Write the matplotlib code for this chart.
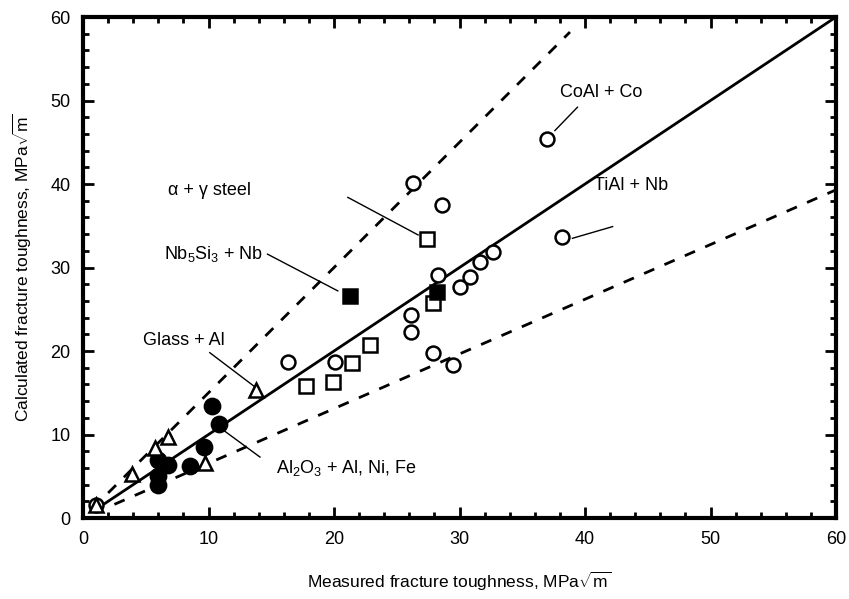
import matplotlib
matplotlib.use("Agg")
import matplotlib.pyplot as plt
from matplotlib.ticker import MultipleLocator
import numpy as np

plt.rcParams['font.family'] = ['Liberation Sans', 'DejaVu Sans']
plt.rcParams['mathtext.fontset'] = 'custom'
plt.rcParams['mathtext.rm'] = 'Liberation Sans'
plt.rcParams['mathtext.it'] = 'Liberation Sans'

# Data (measured, calculated)
open_circle_x = [37.0, 38.2, 26.3, 28.6, 28.3, 31.6, 32.7, 30.0, 30.8, 26.1, 26.1, 27.9, 29.5, 16.3, 20.1, 1.0]
open_circle_y = [45.4, 33.7, 40.1, 37.5, 29.1, 30.7, 31.9, 27.7, 28.9, 24.3, 22.3, 19.8, 18.3, 18.7, 18.7, 1.5]

open_square_x = [17.8, 19.9, 21.4, 22.9, 27.9, 27.4]
open_square_y = [15.8, 16.3, 18.6, 20.7, 25.7, 33.4]

filled_square_x = [21.3, 28.2]
filled_square_y = [26.6, 27.1]

filled_circle_x = [6.0, 6.8, 6.0, 6.0, 8.5, 9.6, 10.8, 10.3]
filled_circle_y = [7.0, 6.3, 5.0, 4.0, 6.2, 8.5, 11.2, 13.4]

triangle_x = [13.8, 6.8, 5.7, 3.9, 9.7, 1.0]
triangle_y = [15.3, 9.7, 8.4, 5.3, 6.6, 1.6]

# Reference lines
ideal_x = [1.0, 60.0]
upper_x = [2.0, 38.8]
upper_slope = 1.5
lower_x = [2.5, 60.0]
lower_slope = 0.655

fig = plt.figure(figsize=(8.49, 5.99), dpi=100)
ax = fig.add_axes([0.0978, 0.1352, 0.8869, 0.8364])

ax.plot(ideal_x, ideal_x, color='black', lw=2.0, zorder=2)
ax.plot(upper_x, np.array(upper_x) * upper_slope, color='black', lw=2.0,
        dashes=(4, 4), zorder=2)
ax.plot(lower_x, np.array(lower_x) * lower_slope, color='black', lw=2.0,
        dashes=(4, 4), zorder=2)

mk = dict(linestyle='none', markersize=10, markeredgewidth=1.8,
          markeredgecolor='black', zorder=3)
ax.plot(open_circle_x, open_circle_y, marker='o', markerfacecolor='white', **mk)
ax.plot(open_square_x, open_square_y, marker='s', markerfacecolor='white', **mk)
ax.plot(filled_square_x, filled_square_y, marker='s', markerfacecolor='black', **mk)
mk_f = dict(mk)
mk_f['markersize'] = 11
ax.plot(filled_circle_x, filled_circle_y, marker='o', markerfacecolor='black', **mk_f)
ax.plot(triangle_x, triangle_y, marker='^', markerfacecolor='white', **mk)

fs = 13
ann = [
    ("CoAl + Co", (41.3, 51.0), (39.4, 49.2), (37.6, 46.4), 'center'),
    ("TiAl + Nb", (43.7, 39.8), (42.2, 34.9), (39.0, 33.5), 'center'),
    ("α + γ steel", (10.1, 39.2), (21.1, 38.4), (26.7, 33.9), 'center'),
    (r"Nb$_5$Si$_3$ + Nb", (10.4, 31.6), (14.7, 31.6), (20.3, 27.2), 'center'),
    ("Glass + Al", (8.0, 21.3), (10.1, 19.8), (13.7, 15.7), 'center'),
    (r"Al$_2$O$_3$ + Al, Ni, Fe", (15.4, 6.0), (14.1, 7.3), (11.2, 10.5), 'left'),
]
for txt, tpos, l0, l1, ha in ann:
    ax.text(tpos[0], tpos[1], txt, fontsize=fs, ha=ha, va='center')
    ax.plot([l0[0], l1[0]], [l0[1], l1[1]], color='black', lw=1.0, zorder=2)

ax.set_xlim(0, 60)
ax.set_ylim(0, 60)
ax.xaxis.set_major_locator(MultipleLocator(10))
ax.yaxis.set_major_locator(MultipleLocator(10))
ax.xaxis.set_minor_locator(MultipleLocator(2))
ax.yaxis.set_minor_locator(MultipleLocator(2))
ax.tick_params(which='both', direction='in', top=True, right=True, width=2,
               labelsize=13)
ax.tick_params(which='major', length=8, pad=9)
ax.tick_params(which='minor', length=4)
for s in ax.spines.values():
    s.set_linewidth(3)

ax.set_xlabel(r"Measured fracture toughness, MPa$\sqrt{\rm m}$", fontsize=12.5, labelpad=16)
ax.set_ylabel(r"Calculated fracture toughness, MPa$\sqrt{\rm m}$", fontsize=12.5, labelpad=12)

fig.savefig("out.png", dpi=100)
